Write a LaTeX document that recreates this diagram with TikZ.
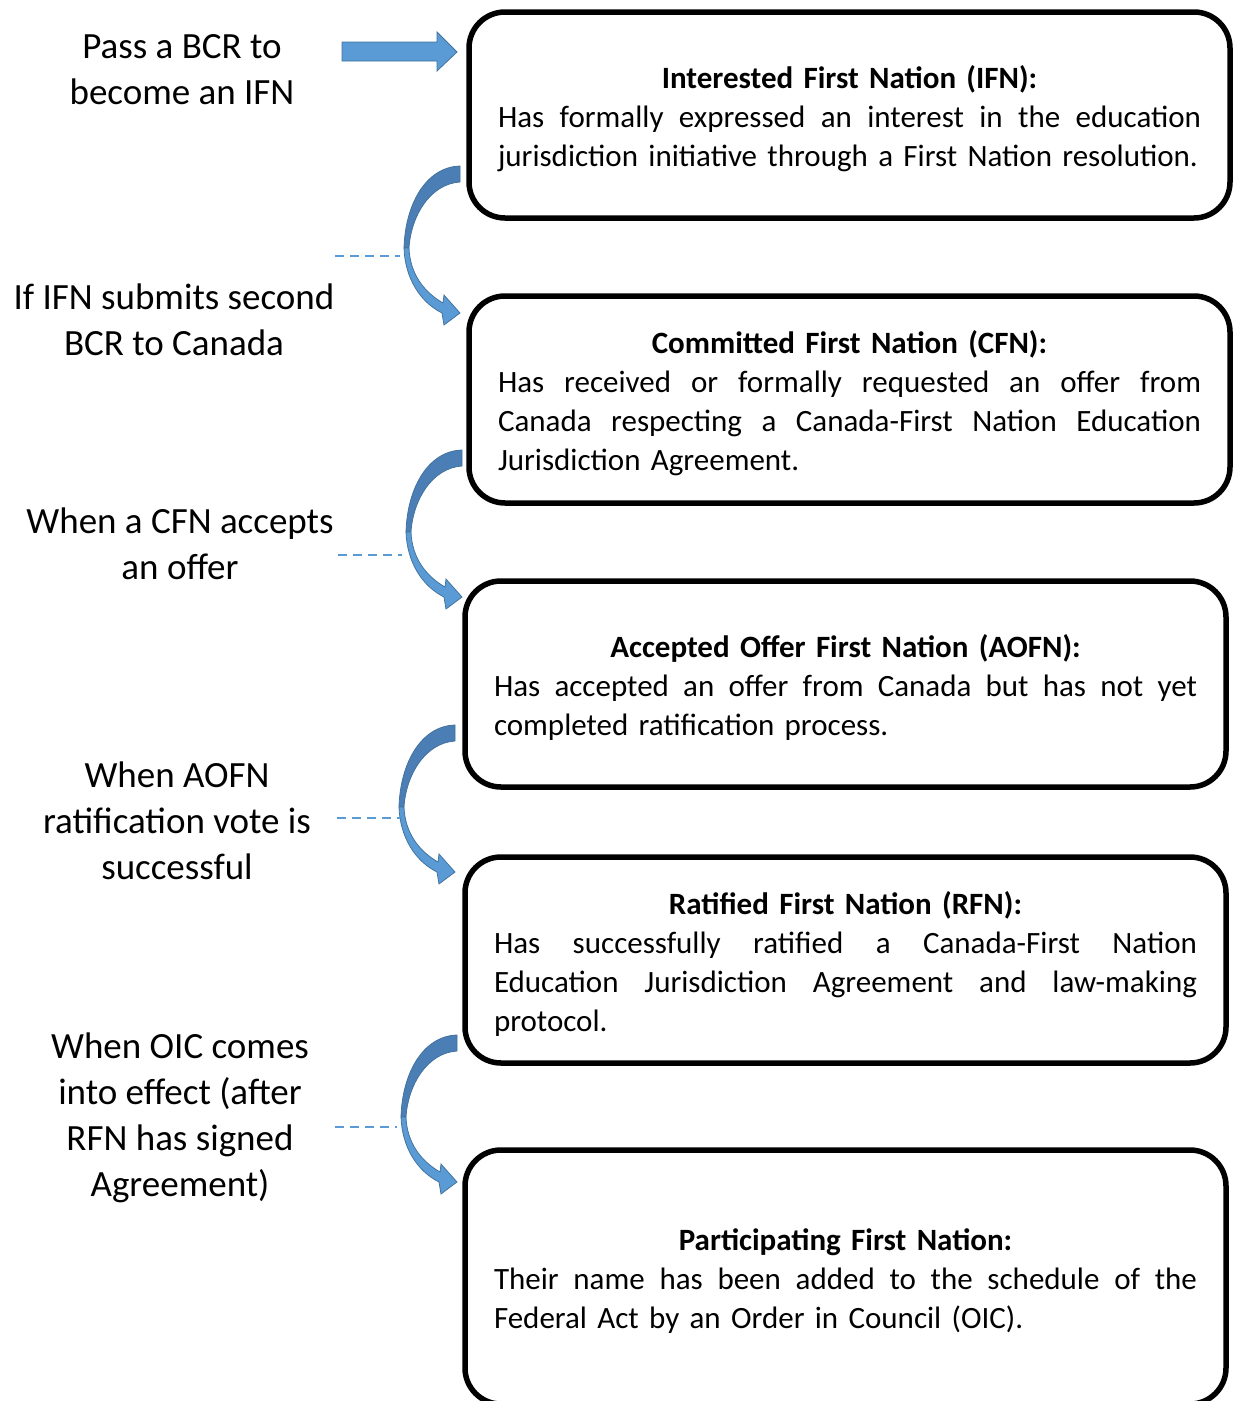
\documentclass[tikz,border=0pt]{standalone}
\usepackage{fontspec}
\setmainfont{Carlito}
\usepackage{tikz}
\usetikzlibrary{positioning, calc}
\definecolor{arrowblue}{HTML}{5B9BD5}
\definecolor{arrowdark}{HTML}{4A7EB5}
\definecolor{arrowline}{HTML}{41719C}
\newcommand{\stagetitle}[1]{\rule{0pt}{30pt}\textbf{#1}}
\newcommand{\justline}[1]{\leavevmode\hbox to 703pt{\spaceskip=\fontdimen2\font plus 1fil\relax #1}}
\newcommand{\lastline}[1]{\leavevmode\hbox to 703pt{#1\hfil}}
\newcommand{\bendarrow}[1]{%
  \begin{scope}[shift={(#1)}]
    \filldraw[fill=arrowdark, draw=arrowline, line width=0.75pt]
      (0,0) -- (0,16) .. controls (-30,18) and (-49,50) .. (-51,82)
      -- (-56,82) .. controls (-55,40) and (-35,1) .. (0,0) -- cycle;
    \filldraw[fill=arrowblue, draw=arrowline, line width=0.75pt]
      (-56,82) .. controls (-55,112) and (-40,136) .. (-18,147)
      -- (-16,159) -- (0,147) -- (-16,129) -- (-17,137)
      .. controls (-36,126) and (-50,108) .. (-51,82) -- cycle;
  \end{scope}%
}

\begin{document}
\begin{tikzpicture}[x=1pt, y=-1pt,
    stage/.style={draw=black, line width=5.5pt, rounded corners=36pt,
        minimum width=761pt, inner sep=0pt, align=center, text width=703pt,
        font=\fontsize{31}{39}\selectfont},
    cond/.style={align=center, font=\fontsize{37}{46}\selectfont},
    guide/.style={arrowblue, line width=2.2pt, dash pattern=on 9pt off 6pt},
  ]
  \useasboundingbox (0,0) rectangle (1235,1401);

  % stages
  \node[stage, minimum height=206pt] (ifn) at (849.5,115) {%
    \stagetitle{Interested First Nation (IFN):}\\
    \justline{Has formally expressed an interest in the education}\\
    \lastline{jurisdiction initiative through a First Nation resolution.}};
  \node[stage, minimum height=207pt] (cfn) at (849.5,399.5) {%
    \stagetitle{Committed First Nation (CFN):}\\
    \justline{Has received or formally requested an offer from}\\
    \justline{Canada respecting a Canada-First Nation Education}\\
    \lastline{Jurisdiction Agreement.}};
  \node[stage, minimum height=206pt] (aofn) at (845.5,684) {%
    \stagetitle{Accepted Offer First Nation (AOFN):}\\
    \justline{Has accepted an offer from Canada but has not yet}\\
    \lastline{completed ratification process.}};
  \node[stage, minimum height=206pt] (rfn) at (845.5,960) {%
    \stagetitle{Ratified First Nation (RFN):}\\
    \justline{Has successfully ratified a Canada-First Nation}\\
    \justline{Education Jurisdiction Agreement and law-making}\\
    \lastline{protocol.}};
  \node[stage, minimum height=254pt] (pfn) at (845.5,1277) {%
    \stagetitle{Participating First Nation:}\\
    \justline{Their name has been added to the schedule of the}\\
    \lastline{Federal Act by an Order in Council (OIC).}};

  % conditions
  \node[cond] (c0) at (182,70) {Pass a BCR to\\become an IFN};
  \node[cond] (c1) at (174,320) {If IFN submits second\\BCR to Canada};
  \node[cond] (c2) at (180,544) {When a CFN accepts\\an offer};
  \node[cond] (c3) at (177,821) {When AOFN\\ratification vote is\\successful};
  \node[cond] (c4) at (180,1118) {When OIC comes\\into effect (after\\RFN has signed\\Agreement)};

  % entry arrow
  \filldraw[fill=arrowblue, draw=arrowline, line width=0.75pt]
    (342,42) -- (437,42) -- (437,32) -- (457,52) -- (437,71) -- (437,61)
    -- (342,61) -- cycle;

  % bent arrows
  \coordinate (a1) at (460,166);
  \coordinate (a2) at (462,450);
  \coordinate (a3) at (455,725);
  \coordinate (a4) at (457,1035);
  \bendarrow{a1}
  \bendarrow{a2}
  \bendarrow{a3}
  \bendarrow{a4}

  % dashed guides
  \coordinate (g1) at (335,256);  \coordinate (h1) at (400,256);
  \coordinate (g2) at (338,555);  \coordinate (h2) at (402,555);
  \coordinate (g3) at (337,818);  \coordinate (h3) at (400,818);
  \coordinate (g4) at (335,1127); \coordinate (h4) at (397,1127);
  \foreach \i in {1,...,4}
    \draw[guide] (g\i) -- (h\i);
\end{tikzpicture}
\end{document}
